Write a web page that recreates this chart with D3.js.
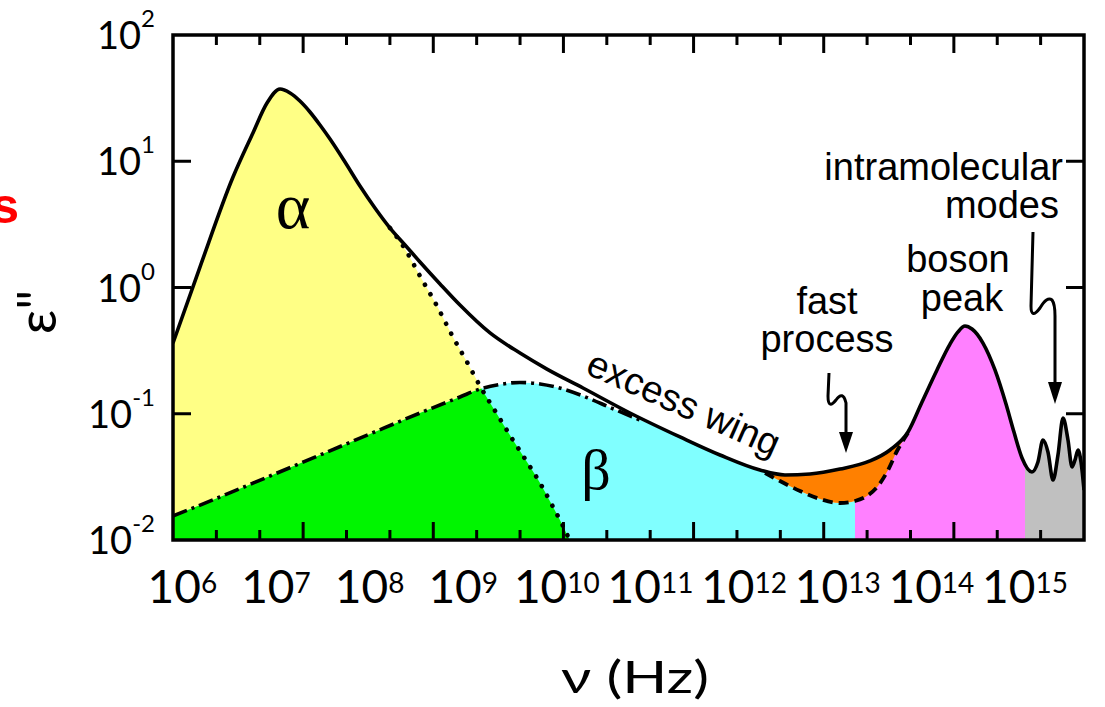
<!DOCTYPE html>
<html>
<head>
<meta charset="utf-8">
<script src="https://cdn.jsdelivr.net/npm/d3@7"></script>
<style>
  body { margin: 0; background: #fff; }
  svg { display: block; }
</style>
</head>
<body>
<script>
// ---- axis decades ----
const xDecades = [6, 7, 8, 9, 10, 11, 12, 13, 14, 15];
const yDecades = [-2, -1, 0, 1, 2];
const yInnerTicks = [-1, 0, 1];

// ---- total loss spectrum: log10(nu / Hz) and log10(eps'') ----
const totalLogNu = [5.900, 6.188, 6.541, 6.754, 6.904, 7.043, 7.150, 7.256, 7.363, 7.470,
  7.577, 7.737, 7.897, 8.057, 8.218, 8.378, 8.538, 8.752, 8.965, 9.286,
  9.606, 9.894, 10.279, 10.781, 11.315, 11.742, 12.169, 12.436, 12.703, 13.024,
  13.344, 13.558, 13.750, 13.900, 14.060, 14.199, 14.284, 14.359, 14.434, 14.551,
  14.679, 14.797, 14.882, 14.968, 15.074, 15.138, 15.192, 15.245, 15.299, 15.352,
  15.406, 15.459, 15.502, 15.534, 15.566, 15.598, 15.630];
const totalLogEps = [-0.440, 0.162, 0.875, 1.224, 1.461, 1.572, 1.541, 1.477, 1.390, 1.287,
  1.176, 0.994, 0.804, 0.630, 0.471, 0.337, 0.202, 0.028, -0.139, -0.360,
  -0.519, -0.646, -0.796, -0.994, -1.184, -1.327, -1.446, -1.485, -1.477, -1.438,
  -1.374, -1.287, -1.145, -0.907, -0.653, -0.448, -0.352, -0.305, -0.329, -0.440,
  -0.653, -0.923, -1.145, -1.350, -1.461, -1.382, -1.208, -1.303, -1.525, -1.327,
  -1.034, -1.208, -1.422, -1.366, -1.287, -1.382, -1.604];

// ---- alpha relaxation ----
const alphaLogNu = [5.900, 6.188, 6.541, 6.754, 6.904, 7.043, 7.150, 7.256, 7.363, 7.470,
  7.577, 7.737, 7.897, 8.057, 8.218, 8.378, 8.538, 8.720, 8.890, 9.040,
  9.179, 9.360, 9.531, 9.681, 9.820, 9.948, 10.065, 10.161, 10.250];
const alphaLogEps = [-0.440, 0.162, 0.875, 1.224, 1.461, 1.572, 1.541, 1.477, 1.390, 1.287,
  1.176, 0.994, 0.804, 0.630, 0.471, 0.305, 0.091, -0.147, -0.392, -0.590,
  -0.780, -1.002, -1.208, -1.382, -1.548, -1.723, -1.889, -2.040, -2.190];

// ---- beta relaxation ----
const betaLogNu = [5.900, 6.402, 6.936, 7.470, 8.004, 8.538, 8.965, 9.179, 9.392, 9.606,
  9.820, 10.065, 10.322, 10.567, 10.888, 11.315, 11.742, 12.169];
const betaLogEps = [-1.810, -1.659, -1.493, -1.327, -1.160, -0.994, -0.867, -0.804, -0.768, -0.752,
  -0.764, -0.804, -0.872, -0.950, -1.050, -1.192, -1.335, -1.453];

// ---- spectrum without the fast process (beta tail into boson-peak wing) ----
const baseLogNu = [12.223, 12.383, 12.597, 12.810, 13.024, 13.184, 13.312, 13.430, 13.537, 13.633, 13.750];
const baseLogEps = [-1.469, -1.533, -1.612, -1.675, -1.707, -1.691, -1.651, -1.572, -1.446, -1.295, -1.152];

// ---- region boundaries (log10 nu) ----
const bosonStartLogNu = 13.184;
const modesStartLogNu = 15.0;
const betaMergeLogNu = 10.9;
const alphaSplitLogNu = 8.2;

// ---- layout ----
const W = 1105, H = 707;
const X0 = 173, X1 = 1084, Y0 = 35, Y1 = 540;
const colors = {
  alpha: "#ffff85", overlap: "#00f500", beta: "#80ffff",
  fast: "#ff8000", boson: "#ff80ff", modes: "#c0c0c0"
};

const svg = d3.select("body").append("svg").attr("width", W).attr("height", H);

const x = d3.scaleLog().domain([Math.pow(10, 5.9), Math.pow(10, 15.63)]).range([X0, X1]);
const y = d3.scaleLog().domain([1e-2, 1e2]).range([Y1, Y0]);

const toPts = (ln, le) => ln.map((v, i) => [Math.pow(10, v), Math.pow(10, le[i])]);
const total = toPts(totalLogNu, totalLogEps);
const alpha = toPts(alphaLogNu, alphaLogEps);
const beta = toPts(betaLogNu, betaLogEps);
const base = toPts(baseLogNu, baseLogEps);
const betaFull = beta.concat(base);

const curve = d3.curveMonotoneX;
const line = d3.line().x(d => x(d[0])).y(d => y(d[1])).curve(curve);
const areaBelow = d3.area().x(d => x(d[0])).y0(Y1).y1(d => y(d[1])).curve(curve);
const areaAbove = d3.area().x(d => x(d[0])).y0(Y0).y1(d => y(d[1])).curve(curve);

const defs = svg.append("defs");
defs.append("clipPath").attr("id", "plotClip")
  .append("rect").attr("x", X0).attr("y", Y0).attr("width", X1 - X0).attr("height", Y1 - Y0);
defs.append("clipPath").attr("id", "alphaClip").append("path").attr("d", areaBelow(alpha));
defs.append("clipPath").attr("id", "totalClip").append("path").attr("d", areaBelow(total));
const rangeClip = (id, lo, hi) => defs.append("clipPath").attr("id", id)
  .append("rect").attr("x", lo).attr("y", Y0).attr("width", hi - lo).attr("height", Y1 - Y0);
rangeClip("betaRange", X0, x(Math.pow(10, bosonStartLogNu)));
rangeClip("bosonRange", x(Math.pow(10, bosonStartLogNu)), x(Math.pow(10, modesStartLogNu)));
rangeClip("modesRange", x(Math.pow(10, modesStartLogNu)), X1);

const plot = svg.append("g").attr("clip-path", "url(#plotClip)");

// filled regions
plot.append("path").attr("d", areaBelow(alpha)).attr("fill", colors.alpha);
plot.append("g").attr("clip-path", "url(#betaRange)")
  .append("path").attr("d", areaBelow(betaFull)).attr("fill", colors.beta);
plot.append("g").attr("clip-path", "url(#alphaClip)")
  .append("path").attr("d", areaBelow(beta)).attr("fill", colors.overlap);
plot.append("g").attr("clip-path", "url(#bosonRange)")
  .append("path").attr("d", areaBelow(total)).attr("fill", colors.boson);
plot.append("g").attr("clip-path", "url(#modesRange)")
  .append("path").attr("d", areaBelow(total)).attr("fill", colors.modes);
plot.append("g").attr("clip-path", "url(#totalClip)")
  .append("path").attr("d", areaAbove(base)).attr("fill", colors.fast);

// component curves
plot.append("path").attr("d", line(alpha.filter((d, i) => alphaLogNu[i] >= alphaSplitLogNu)))
  .attr("fill", "none").attr("stroke", "#000").attr("stroke-width", 4.6)
  .attr("stroke-linecap", "round").attr("stroke-dasharray", "0.1 11");
plot.append("path").attr("d", line(beta.filter((d, i) => betaLogNu[i] <= betaMergeLogNu)))
  .attr("fill", "none").attr("stroke", "#000").attr("stroke-width", 3.6)
  .attr("stroke-dasharray", "15 5 3 5");
plot.append("path").attr("d", line(base))
  .attr("fill", "none").attr("stroke", "#000").attr("stroke-width", 3.8)
  .attr("stroke-dasharray", "10 6");
plot.append("path").attr("d", line(total))
  .attr("fill", "none").attr("stroke", "#000").attr("stroke-width", 3.6)
  .attr("stroke-linejoin", "round");

// frame
svg.append("rect").attr("x", X0).attr("y", Y0).attr("width", X1 - X0).attr("height", Y1 - Y0)
  .attr("fill", "none").attr("stroke", "#000").attr("stroke-width", 3.5);

// frequency tick grid along top and bottom edges
const grid = d3.scaleLinear().domain([0, 21]).range([X0, X1]);
const gridTicks = d3.range(1, 21);
const ticks = svg.append("g").attr("stroke", "#000").attr("stroke-width", 3);
gridTicks.forEach(i => {
  const len = i % 3 === 0 ? 18 : 10;
  const gx = grid(i);
  ticks.append("line").attr("x1", gx).attr("x2", gx).attr("y1", Y1).attr("y2", Y1 - len);
  ticks.append("line").attr("x1", gx).attr("x2", gx).attr("y1", Y0).attr("y2", Y0 + len);
});
yInnerTicks.forEach(p => {
  const gy = y(Math.pow(10, p));
  ticks.append("line").attr("x1", X0).attr("x2", X0 + 18).attr("y1", gy).attr("y2", gy);
  ticks.append("line").attr("x1", X1).attr("x2", X1 - 18).attr("y1", gy).attr("y2", gy);
});

const numFont = "Lato, 'Open Sans', 'Noto Sans', sans-serif";
const annFont = "'Liberation Sans', Arial, sans-serif";

// x tick labels
xDecades.forEach(p => {
  const t = svg.append("text").attr("x", x(Math.pow(10, p))).attr("y", 603)
    .attr("text-anchor", "middle").attr("font-family", numFont).attr("font-size", 46).attr("fill", "#000");
  t.append("tspan").text("10");
  t.append("tspan").attr("dy", -10).attr("font-size", 28).text(String(p));
});

// y tick labels
yDecades.forEach(p => {
  const t = svg.append("text").attr("x", 155).attr("y", y(Math.pow(10, p)) + 14)
    .attr("text-anchor", "end").attr("font-family", numFont).attr("font-size", 38).attr("fill", "#000");
  t.append("tspan").text("10");
  t.append("tspan").attr("dy", -22).attr("font-size", 24).text(String(p));
});

// axis titles
svg.append("text").attr("x", 635).attr("y", 693).attr("text-anchor", "middle")
  .attr("font-family", numFont).attr("font-size", 45).attr("textLength", 148)
  .attr("lengthAdjust", "spacingAndGlyphs").text("ν (Hz)");
svg.append("text").attr("transform", "translate(56,312) rotate(-90)")
  .attr("text-anchor", "middle").attr("font-family", numFont).attr("font-size", 54)
  .text("ε\"");

svg.append("text").attr("x", 19).attr("y", 223).attr("text-anchor", "end")
  .attr("font-family", annFont).attr("font-weight", "bold").attr("font-size", 50)
  .attr("fill", "#ff0000").text("s");

// region labels
svg.append("text").attr("x", 293).attr("y", 228).attr("text-anchor", "middle")
  .attr("font-family", "'Liberation Serif', 'Times New Roman', serif").attr("font-size", 66).text("α");
svg.append("text").attr("x", 596).attr("y", 489).attr("text-anchor", "middle")
  .attr("font-family", "'Liberation Serif', 'Times New Roman', serif").attr("font-size", 58).text("β");

const ann = (tx, ty, anchor, s, rot) => {
  const t = svg.append("text").attr("font-family", annFont).attr("font-size", 38)
    .attr("text-anchor", anchor).text(s);
  if (rot) t.attr("transform", `translate(${tx},${ty}) rotate(${rot})`);
  else t.attr("x", tx).attr("y", ty);
};
ann(1063, 180, "end", "intramolecular");
ann(1059, 218, "end", "modes");
ann(958, 272, "middle", "boson");
ann(962, 311, "middle", "peak");
ann(827, 314, "middle", "fast");
ann(827, 352, "middle", "process");
ann(584, 373, "start", "excess wing", 24);

// squiggle arrows
const arrows = svg.append("g");
arrows.append("path")
  .attr("d", "M829,373 L828,396 Q828,410 836,400 Q843,390 846,403 L846,433")
  .attr("fill", "none").attr("stroke", "#000").attr("stroke-width", 3);
arrows.append("path").attr("d", "M839,432 L853,432 L846,453 Z").attr("fill", "#000");
arrows.append("path")
  .attr("d", "M1033,232 L1031,306 Q1031,320 1040,308 Q1047,296 1052,300 Q1055,304 1055,316 L1055,383")
  .attr("fill", "none").attr("stroke", "#000").attr("stroke-width", 3);
arrows.append("path").attr("d", "M1048,382 L1062,382 L1055,404 Z").attr("fill", "#000");
</script>
</body>
</html>
